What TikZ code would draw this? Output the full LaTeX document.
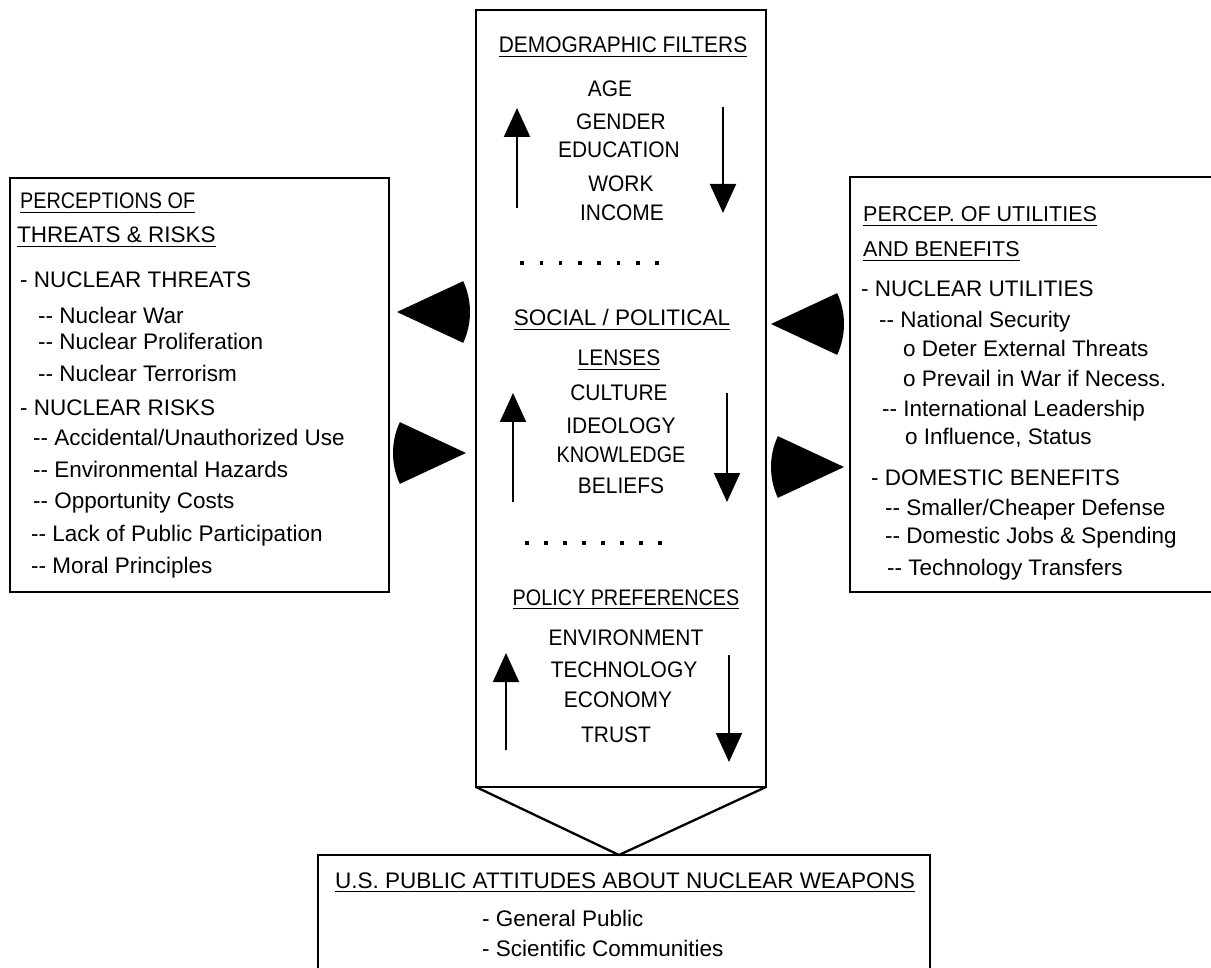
\documentclass[tikz,border=0pt]{standalone}
\usepackage{fontspec}
\setmainfont{Liberation Sans}
\newfontfamily\condfont[FakeStretch=0.93]{Liberation Sans}
\newfontfamily\narrowfont[FakeStretch=0.88]{Liberation Sans}
\usetikzlibrary{arrows.meta}
\newcommand\myul[1]{\setbox0\hbox{#1}\rlap{\rule[-4.2pt]{\wd0}{1.3pt}}\box0}
\newcommand\dd{-\kern0pt-}
\begin{document}
\begin{tikzpicture}[x=1pt,y=-1pt,
  box/.style={draw, line width=2.3pt, inner sep=0pt, outer sep=0pt},
  lt/.style={anchor=base west, inner sep=0pt, font=\fontsize{22.5}{27}\selectfont},
  hd/.style={anchor=base west, inner sep=0pt, font=\fontsize{21.5}{26}\selectfont},
  ct/.style={anchor=base, inner sep=0pt, font=\condfont\fontsize{22.5}{27}\selectfont},
  flow/.style={line width=2pt, -{Triangle[length=29pt,width=26pt]}},
  dotmark/.style={fill=black, minimum size=3.6pt, inner sep=0pt, shape=rectangle}]
\useasboundingbox (0,0) rectangle (1211,968);
\clip (0,0) rectangle (1211,968);
\fill[white] (0,0) rectangle (1211,968);

% boxes
\node[box, minimum width=379pt, minimum height=414pt] (L) at (199.5,385) {};
\node[box, minimum width=380pt, minimum height=415pt] (R) at (1040,384.5) {};
\node[box, minimum width=290pt, minimum height=777pt] (C) at (621,398.5) {};
\node[box, minimum width=612pt, minimum height=140pt] (B) at (624,925) {};
\coordinate (apex) at (619,855);
\draw[line width=2.3pt, line join=miter] (C.south west) -- (apex) -- (C.south east);

% wedges
\coordinate (w1) at (397,312);
\coordinate (w2) at (466,453);
\coordinate (w3) at (771,324);
\coordinate (w4) at (844,467);
\fill (w1) -- ++(25:73pt) arc[start angle=25, end angle=-25, radius=73pt] -- cycle;
\fill (w2) -- ++(155:73pt) arc[start angle=155, end angle=205, radius=73pt] -- cycle;
\fill (w3) -- ++(25:73pt) arc[start angle=25, end angle=-25, radius=73pt] -- cycle;
\fill (w4) -- ++(155:73pt) arc[start angle=155, end angle=205, radius=73pt] -- cycle;

% vertical arrows
\coordinate (a1s) at (517,208); \coordinate (a1e) at (517,108);
\coordinate (a2s) at (723,107); \coordinate (a2e) at (723,213);
\coordinate (a3s) at (513,502); \coordinate (a3e) at (513,393);
\coordinate (a4s) at (727,393); \coordinate (a4e) at (727,502);
\coordinate (a5s) at (506,750); \coordinate (a5e) at (506,653);
\coordinate (a6s) at (729,655); \coordinate (a6e) at (729,762);
\draw[flow] (a1s) -- (a1e);
\draw[flow] (a2s) -- (a2e);
\draw[flow] (a3s) -- (a3e);
\draw[flow] (a4s) -- (a4e);
\draw[flow] (a5s) -- (a5e);
\draw[flow] (a6s) -- (a6e);

% dotted rows
\foreach \i in {0,...,7} {
  \node[dotmark] (da\i) at (522+19.3*\i,263) {};
  \node[dotmark] (db\i) at (527+19*\i,543) {};
}

% center texts
\node[ct] (t1) at (623,53) {\myul{DEMOGRAPHIC FILTERS}};
\node[ct] (t2) at (610,97) {AGE};
\node[ct] (t3) at (621,130) {GENDER};
\node[ct] (t4) at (619,158) {EDUCATION};
\node[ct] (t5) at (621,192) {WORK};
\node[ct] (t6) at (622,221) {INCOME};
\node[ct, font=\fontsize{22.5}{27}\selectfont] (t7) at (622,326) {\myul{SOCIAL / POLITICAL}};
\node[ct] (t8) at (619,366) {\myul{LENSES}};
\node[ct] (t9) at (619,401) {CULTURE};
\node[ct] (t10) at (621,433) {IDEOLOGY};
\node[ct, font=\narrowfont\fontsize{22.5}{27}\selectfont] (t11) at (621,462) {KNOWLEDGE};
\node[ct] (t12) at (621,493) {BELIEFS};
\node[ct, font=\narrowfont\fontsize{22.5}{27}\selectfont] (t13) at (626,605) {\myul{POLICY PREFERENCES}};
\node[ct] (t14) at (626,645) {ENVIRONMENT};
\node[ct] (t15) at (624,677) {TECHNOLOGY};
\node[ct] (t16) at (618,707) {ECONOMY};
\node[ct] (t17) at (616,742) {TRUST};

% left texts
\node[hd, font=\narrowfont\fontsize{22.5}{27}\selectfont] (l1) at (20,209) {\myul{PERCEPTIONS OF}};
\node[hd, font=\fontsize{22.5}{27}\selectfont] (l2) at (17,243) {\myul{THREATS \& RISKS}};
\node[lt] (l3) at (20,288) {- NUCLEAR THREATS};
\node[lt] (l4) at (38,324) {\dd{} Nuclear War};
\node[lt] (l5) at (38,350) {\dd{} Nuclear Proliferation};
\node[lt] (l6) at (38,382) {\dd{} Nuclear Terrorism};
\node[lt] (l7) at (20,416) {- NUCLEAR RISKS};
\node[lt] (l8) at (33,446) {\dd{} Accidental/Unauthorized Use};
\node[lt] (l9) at (33,477) {\dd{} Environmental Hazards};
\node[lt] (l10) at (33,508) {\dd{} Opportunity Costs};
\node[lt] (l11) at (31,541) {\dd{} Lack of Public Participation};
\node[lt] (l12) at (31,573) {\dd{} Moral Principles};

% right texts
\node[hd] (r1) at (863,222) {\myul{PERCEP. OF UTILITIES}};
\node[hd] (r2) at (863,257) {\myul{AND BENEFITS}};
\node[lt] (r3) at (861,297) {- NUCLEAR UTILITIES};
\node[lt] (r4) at (879,328) {\dd{} National Security};
\node[lt] (r5) at (903,357) {o Deter External Threats};
\node[lt] (r6) at (903,387) {o Prevail in War if Necess.};
\node[lt] (r7) at (882,417) {\dd{} International Leadership};
\node[lt] (r8) at (905,445) {o Influence, Status};
\node[lt] (r9) at (871,485) {- DOMESTIC BENEFITS};
\node[lt] (r10) at (885,515) {\dd{} Smaller/Cheaper Defense};
\node[lt] (r11) at (885,543) {\dd{} Domestic Jobs \& Spending};
\node[lt] (r12) at (887,575) {\dd{} Technology Transfers};

% bottom texts
\node[lt, anchor=base east] (b1) at (915,888) {\myul{U.S. PUBLIC ATTITUDES ABOUT NUCLEAR WEAPONS}};
\node[lt] (b2) at (482,926) {- General Public};
\node[lt] (b3) at (482,956) {- Scientific Communities};
\end{tikzpicture}
\end{document}
